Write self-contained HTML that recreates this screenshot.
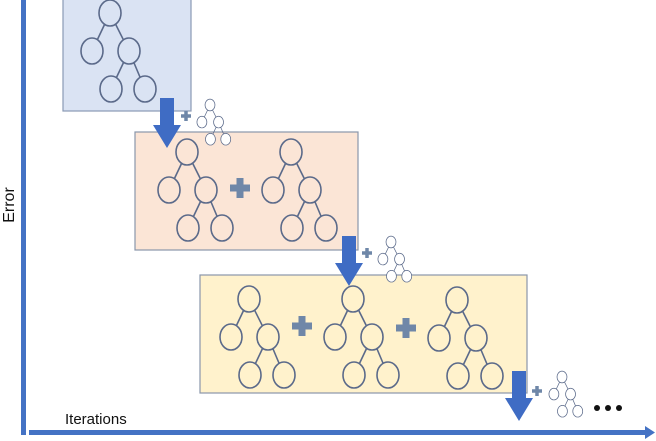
<!DOCTYPE html>
<html><head><style>html,body{margin:0;padding:0;background:#fff;width:656px;height:441px;overflow:hidden}</style></head>
<body>
<svg width="656" height="441" viewBox="0 0 656 441" xmlns="http://www.w3.org/2000/svg" font-family="Liberation Sans, sans-serif">
<defs>
<g id="T" stroke="#5b6a8a" stroke-width="1.6">
<line x1="0" y1="0" x2="-18" y2="38"/><line x1="0" y1="0" x2="19" y2="38"/>
<line x1="19" y1="38" x2="1" y2="76"/><line x1="19" y1="38" x2="35" y2="76"/>
<ellipse cx="0" cy="0" rx="11" ry="13"/>
<ellipse cx="-18" cy="38" rx="11" ry="13"/>
<ellipse cx="19" cy="38" rx="11" ry="13"/>
<ellipse cx="1" cy="76" rx="11" ry="13"/>
<ellipse cx="35" cy="76" rx="11" ry="13"/>
</g>
<g id="P"><rect x="-3.5" y="-10" width="7" height="20" fill="#6f87a8"/><rect x="-10" y="-3.5" width="20" height="7" fill="#6f87a8"/></g>
<g id="A"><polygon points="-7,0 7,0 7,27 14,27 0,50 -14,27 -7,27" fill="#3f6cc4"/></g>
</defs>
<rect x="63" y="-2" width="128" height="113" fill="#dae3f3" stroke="#8a9ab5" stroke-width="1.2"/>
<rect x="135" y="132" width="223" height="118" fill="#fbe5d6" stroke="#8a96aa" stroke-width="1.2"/>
<rect x="200" y="275" width="327" height="118" fill="#fff2cc" stroke="#8a96aa" stroke-width="1.2"/>
<use href="#T" x="110" y="13" fill="#dae3f3"/>
<use href="#T" x="187" y="152" fill="#fbe5d6"/>
<use href="#T" x="291" y="152" fill="#fbe5d6"/>
<use href="#T" x="249" y="299" fill="#fff2cc"/>
<use href="#T" x="353" y="299" fill="#fff2cc"/>
<use href="#T" x="457" y="300" fill="#fff2cc"/>
<use href="#P" transform="translate(240,188)"/>
<use href="#P" transform="translate(302,326)"/>
<use href="#P" transform="translate(406,328)"/>
<use href="#P" transform="translate(186,116) scale(0.5)"/>
<use href="#P" transform="translate(367,253) scale(0.5)"/>
<use href="#P" transform="translate(537,391) scale(0.5)"/>
<use href="#A" x="167" y="98"/>
<use href="#A" x="349" y="236"/>
<use href="#A" x="519" y="371"/>
<use href="#T" transform="translate(210,105) scale(0.45)" fill="#fff" stroke="#4a62a0" stroke-width="3"/>
<use href="#T" transform="translate(391,242) scale(0.45)" fill="#fff" stroke="#4a62a0" stroke-width="3"/>
<use href="#T" transform="translate(562,377) scale(0.45)" fill="#fff" stroke="#4a62a0" stroke-width="3"/>
<circle cx="597" cy="408" r="3" fill="#111"/><circle cx="608" cy="408" r="3" fill="#111"/><circle cx="619" cy="408" r="3" fill="#111"/>
<rect x="21" y="0" width="5" height="435" fill="#4472c4"/>
<rect x="29" y="430" width="618" height="5" fill="#4472c4"/>
<polygon points="645,426 655,432.5 645,439" fill="#4472c4"/>
<text x="0" y="0" transform="translate(14,205) rotate(-90)" text-anchor="middle" font-size="16" fill="#111">Error</text>
<text x="65" y="424" font-size="15" fill="#111">Iterations</text>
</svg>
</body></html>
